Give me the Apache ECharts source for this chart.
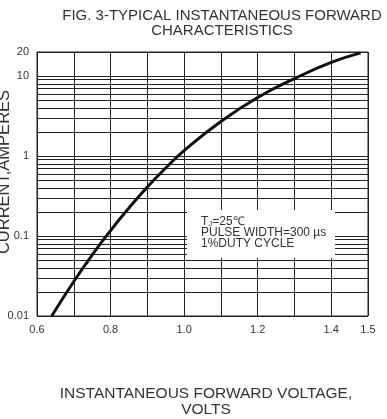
<!DOCTYPE html>
<html lang="en">

<head>
    <meta charset="UTF-8">
    <title>Forward characteristics</title>
    <style>
        html, body { margin: 0; padding: 0; background: #fff; }
        #box { width: 387px; height: 419px; }
    </style>
    <script src="https://cdn.jsdelivr.net/npm/echarts@6/dist/echarts.min.js"></script>
</head>

<body>
    <div id="box"></div>
    <script>
        // forward voltage (V) vs current (A)
        const voltage = [0.64, 0.70, 0.75, 0.80, 0.85, 0.90, 0.95, 1.00, 1.10, 1.20, 1.30, 1.40, 1.48]
        const current = [0.01, 0.027, 0.058, 0.117, 0.224, 0.41, 0.71, 1.17, 2.7, 5.4, 9.3, 14.8, 19.5]

        // labelled x ticks
        const xLabels = [0.6, 0.8, 1.0, 1.2, 1.4, 1.5]
        // minor horizontal grid lines (2..9 in each decade below 10)
        const minorLines = [
            0.02, 0.03, 0.04, 0.05, 0.06, 0.07, 0.08, 0.09,
            0.2, 0.3, 0.4, 0.5, 0.6, 0.7, 0.8, 0.9,
            2, 3, 4, 5, 6, 7, 8, 9
        ]

        const lineColor = '#222'
        const textColor = '#333'
        const font = 'Arial, "Liberation Sans", sans-serif'

        const myChart = echarts.init(document.querySelector('#box'))

        const option = {
            animation: false,
            title: {
                text: 'FIG. 3-TYPICAL INSTANTANEOUS FORWARD\nCHARACTERISTICS',
                left: 217,
                top: 3,
                textAlign: 'center',
                textStyle: {
                    fontFamily: font,
                    fontSize: 15,
                    fontWeight: 'normal',
                    color: textColor,
                    lineHeight: 15,
                },
            },
            grid: {
                left: 37,
                right: 19,
                top: 52,
                bottom: 103,
                outerBoundsMode: 'none',
                show: true,
                borderColor: lineColor,
                borderWidth: 1,
            },
            xAxis: {
                type: 'value',
                min: 0.6,
                max: 1.5,
                interval: 0.1,
                name: 'INSTANTANEOUS FORWARD VOLTAGE,\nVOLTS',
                nameLocation: 'middle',
                nameGap: 70,
                nameMoveOverlap: false,
                nameTextStyle: {
                    fontFamily: font,
                    fontSize: 15.5,
                    color: textColor,
                    lineHeight: 16,
                    padding: [0, 0, 0, 7],
                },
                axisLine: { show: false },
                axisTick: { show: false },
                axisLabel: {
                    fontFamily: font,
                    fontSize: 11,
                    color: textColor,
                    margin: 8,
                    showMinLabel: true,
                    showMaxLabel: true,
                    formatter: function(v) {
                        const r = Math.round(v * 10) / 10
                        return xLabels.indexOf(r) >= 0 ? r.toFixed(1) : ''
                    },
                },
                splitLine: { lineStyle: { color: lineColor, width: 1 } },
            },
            yAxis: {
                type: 'log',
                logBase: 10,
                min: 0.01,
                max: 20,
                name: 'CURRENT,AMPERES',
                nameLocation: 'middle',
                nameGap: 24,
                nameMoveOverlap: false,
                nameTextStyle: {
                    fontFamily: font,
                    fontSize: 16.5,
                    color: textColor,
                    padding: [0, 0, 0, 24],
                },
                axisLine: { show: false },
                axisTick: { show: false },
                axisLabel: {
                    fontFamily: font,
                    fontSize: 11,
                    color: textColor,
                    margin: 8,
                    showMaxLabel: true,
                    formatter: function(v) {
                        if (v >= 1) return String(Math.round(v))
                        return String(+v.toPrecision(1))
                    },
                },
                splitLine: { lineStyle: { color: lineColor, width: 1 } },
            },
            series: [{
                type: 'line',
                data: voltage.map((v, i) => [v, current[i]]),
                smooth: true,
                symbol: 'none',
                lineStyle: { color: '#111', width: 3 },
                z: 5,
                markLine: {
                    silent: true,
                    symbol: 'none',
                    label: { show: false },
                    lineStyle: { color: lineColor, width: 1, type: 'solid' },
                    data: minorLines.map(v => ({ yAxis: v })),
                    z: 1,
                },
            }],
            graphic: [{
                type: 'rect',
                z: 50,
                shape: { x: 187, y: 210, width: 148, height: 48 },
                style: { fill: '#fff' },
            }, {
                type: 'text',
                z: 51,
                left: 201,
                top: 216,
                style: {
                    text: 'T{s|J}=25\u2103\nPULSE WIDTH=300 \u00b5s\n1%DUTY CYCLE',
                    fontFamily: font,
                    fontSize: 12,
                    lineHeight: 11,
                    fill: textColor,
                    rich: {
                        s: { fontSize: 8, fontFamily: font, fill: textColor, verticalAlign: 'bottom', lineHeight: 11 },
                    },
                },
            }],
        }

        myChart.setOption(option)
    </script>

</body>

</html>
